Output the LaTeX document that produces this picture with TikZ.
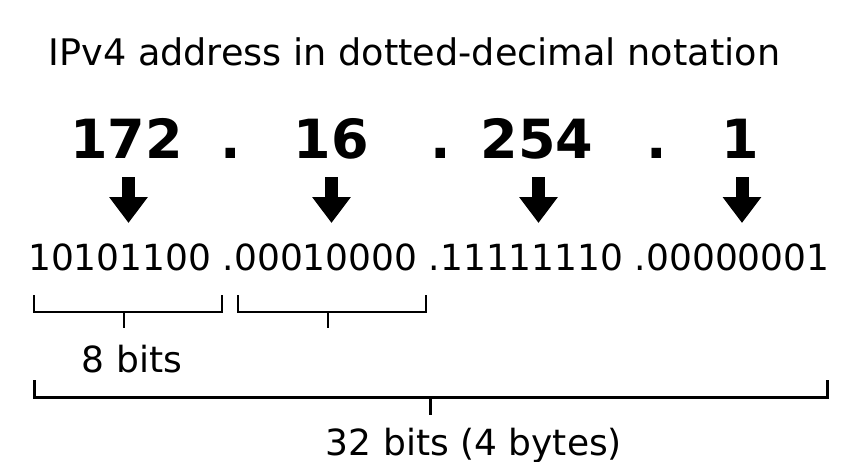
\documentclass[tikz,border=0pt]{standalone}
\usepackage{fontspec}
\setmainfont{DejaVu Sans}
\usetikzlibrary{arrows.meta}
\tikzset{
  lbl/.style={inner sep=0pt, anchor=base, font=\fontsize{36}{40}\selectfont},
  big/.style={inner sep=0pt, anchor=base, font=\fontsize{54}{60}\selectfont\bfseries},
  downarrow/.style={line width=13pt, -{Triangle[width=37pt,length=26pt]}},
  thinbrace/.style={line width=2pt},
  thickbrace/.style={line width=3pt}
}
\begin{document}
\begin{tikzpicture}[x=1pt,y=-1pt]
\useasboundingbox[fill=white] (0,0) rectangle (852,461);
% title
\node[lbl, anchor=base west, font=\fontsize{36.6}{40}\selectfont] (title) at (48.4,65) {IPv4 address in dotted-decimal notation};
% big numbers
\node[big] (n1) at (126.5,158) {172};
\node[big] (d1) at (231,158) {.};
\node[big] (n2) at (331,158) {16};
\node[big] (d2) at (441,158) {.};
\node[big] (n3) at (537,158) {254};
\node[big] (d3) at (657,158) {.};
\node[big] (n4) at (740,158) {1};
% arrows
\coordinate (a1s) at (128.5,177); \coordinate (a1e) at (128.5,223);
\coordinate (a2s) at (331.5,177); \coordinate (a2e) at (331.5,223);
\coordinate (a3s) at (538.5,177); \coordinate (a3e) at (538.5,223);
\coordinate (a4s) at (742,177);   \coordinate (a4e) at (742,223);
\draw[downarrow] (a1s) -- (a1e);
\draw[downarrow] (a2s) -- (a2e);
\draw[downarrow] (a3s) -- (a3e);
\draw[downarrow] (a4s) -- (a4e);
% binary
\node[lbl] (bin) at (429,270) {10101100 .00010000 .11111110 .00000001};
% small brackets
\draw[thinbrace] (34,295) -- (34,312) -- (221.5,312) -- (221.5,295);
\draw[thinbrace] (124,312) -- (124,328);
\draw[thinbrace] (237.5,295) -- (237.5,312) -- (425.5,312) -- (425.5,295);
\draw[thinbrace] (327.5,312) -- (327.5,328);
\node[lbl] (eight) at (132,372) {8 bits};
% big bracket
\draw[thickbrace] (34,380) -- (34,397) -- (827,397) -- (827,380);
\draw[thickbrace] (430,397) -- (430,415);
\node[lbl] (thirtytwo) at (474,455) {32 bits (4 bytes)};
\end{tikzpicture}
\end{document}
